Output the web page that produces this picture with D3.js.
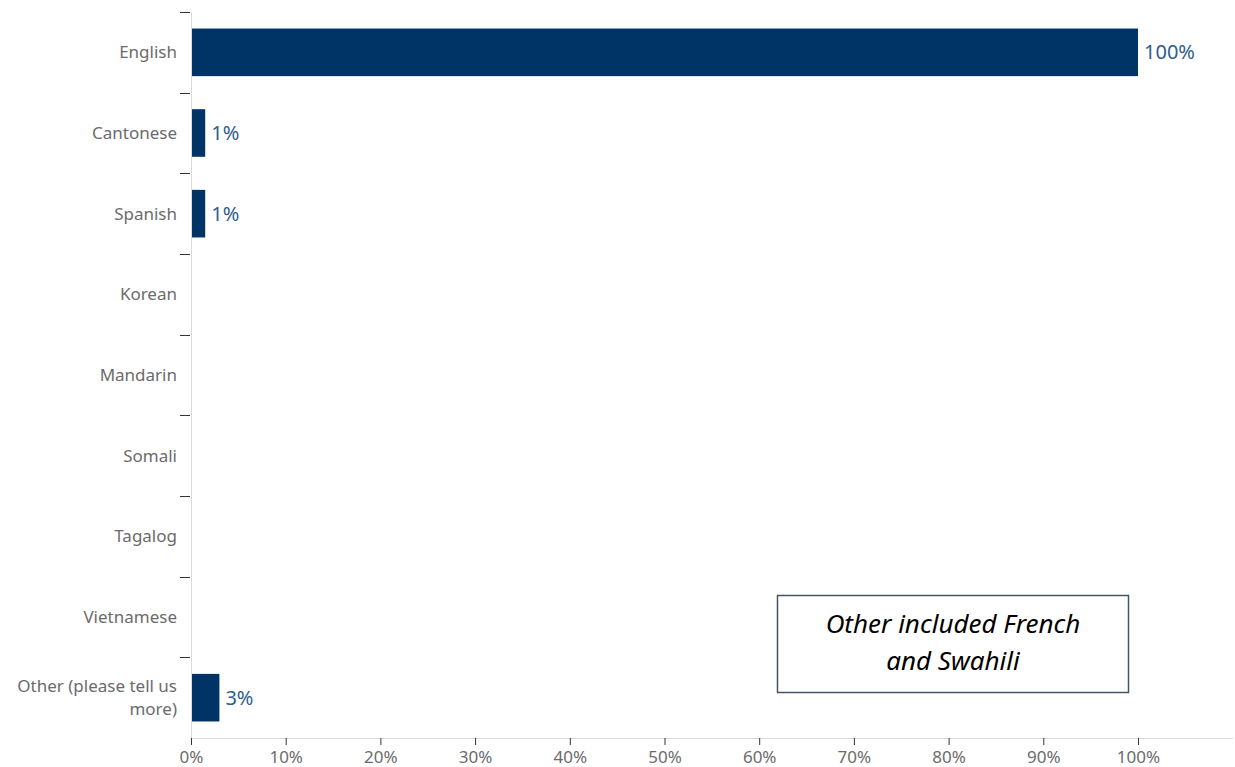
<!DOCTYPE html>
<html>
<head>
<meta charset="utf-8">
<style>
body { margin: 0; background: #fff; }
svg { display: block; }
.axis text { font: 17px "Noto Sans", sans-serif; fill: #6b6b6b; }
.axis .domain { stroke: #d9d9d9; }
.axis .tick line { stroke: #333; }
.value { font: 20px "Noto Sans", sans-serif; fill: #2f5d8c; }
.note text { font: italic 26px "Noto Sans", sans-serif; fill: #000; text-anchor: middle; }
</style>
</head>
<body>
<svg width="1235" height="767"></svg>
<script src="https://d3js.org/d3.v7.min.js"></script>
<script>

var languages = ["English", "Cantonese", "Spanish", "Korean", "Mandarin", "Somali", "Tagalog", "Vietnamese", "Other (please tell us more)"];
var shares = [100, 1.5, 1.5, 0, 0, 0, 0, 0, 3];
var shareLabels = ["100%", "1%", "1%", "", "", "", "", "", "3%"];
var xTicks = [0, 10, 20, 30, 40, 50, 60, 70, 80, 90, 100];
var noteLines = ["Other included French", "and Swahili"];

var svg = d3.select("svg");

var margin = {top: 12, right: 2, bottom: 29, left: 191},
    width = 1235 - margin.left - margin.right,
    height = 767 - margin.top - margin.bottom;

var data = languages.map(function(d, i) {
  return {name: d, value: shares[i], label: shareLabels[i]};
});

var x = d3.scaleLinear()
    .domain([0, 100])
    .range([0, 947]);

var y = d3.scaleBand()
    .domain(languages)
    .range([0, height])
    .paddingInner(0.41)
    .paddingOuter(0.205);

var g = svg.append("g")
    .attr("transform", "translate(" + margin.left + "," + margin.top + ")");

// x axis
var xAxis = g.append("g")
    .attr("class", "axis")
    .attr("transform", "translate(0," + height + ")")
    .call(d3.axisBottom(x).tickValues(xTicks).tickSize(7).tickSizeOuter(0).tickFormat(function(d) { return d + "%"; }));
xAxis.select(".domain").attr("d", "M0.5,0.5H" + width);
xAxis.selectAll(".tick text").attr("y", 19).attr("dy", "0.35em");

// y axis: ticks at band boundaries
var yAxis = g.append("g").attr("class", "axis");
yAxis.append("path")
    .attr("class", "domain")
    .attr("d", "M0.5,0V" + height);

var step = y.step();
var bounds = languages.map(function(d) { return y(d) - (step - y.bandwidth()) / 2; });
yAxis.selectAll(".tick")
    .data(bounds)
  .enter().append("g")
    .attr("class", "tick")
    .append("line")
    .attr("x1", -11).attr("x2", -1)
    .attr("y1", function(d) { return Math.round(d) + 0.5; })
    .attr("y2", function(d) { return Math.round(d) + 0.5; });

// category labels, long one wrapped onto two lines
data.forEach(function(d) {
  var lines = d.name.length > 20 ? ["Other (please tell us", "more)"] : [d.name];
  var cy = y(d.name) + y.bandwidth() / 2;
  var lh = 23;
  lines.forEach(function(s, k) {
    yAxis.append("text")
      .attr("class", "ylabel")
      .attr("x", -14)
      .attr("text-anchor", "end")
      .attr("y", cy + (k - (lines.length - 1) / 2) * lh)
      .attr("dy", "0.35em")
      .text(s);
  });
});

// bars
g.selectAll(".bar")
    .data(data.filter(function(d) { return d.value > 0; }))
  .enter().append("rect")
    .attr("class", "bar")
    .attr("x", 1)
    .attr("y", function(d) { return y(d.name); })
    .attr("width", function(d) { return x(d.value) - 1; })
    .attr("height", y.bandwidth())
    .attr("fill", "#003366");

g.selectAll(".value")
    .data(data.filter(function(d) { return d.label; }))
  .enter().append("text")
    .attr("class", "value")
    .attr("x", function(d) { return x(d.value) + 6; })
    .attr("y", function(d) { return y(d.name) + y.bandwidth() / 2; })
    .attr("dy", "0.35em")
    .text(function(d) { return d.label; });

// annotation box
var note = svg.append("g").attr("class", "note");
note.append("rect")
    .attr("x", 777.5).attr("y", 595.5)
    .attr("width", 351).attr("height", 97)
    .attr("fill", "#fff")
    .attr("stroke", "#44546a")
    .attr("stroke-width", 1.5);
note.selectAll("text")
    .data(noteLines)
  .enter().append("text")
    .attr("x", 953)
    .attr("y", function(d, i) { return 624 + i * 37; })
    .attr("dy", "0.35em")
    .text(function(d) { return d; });

</script>
</body>
</html>
